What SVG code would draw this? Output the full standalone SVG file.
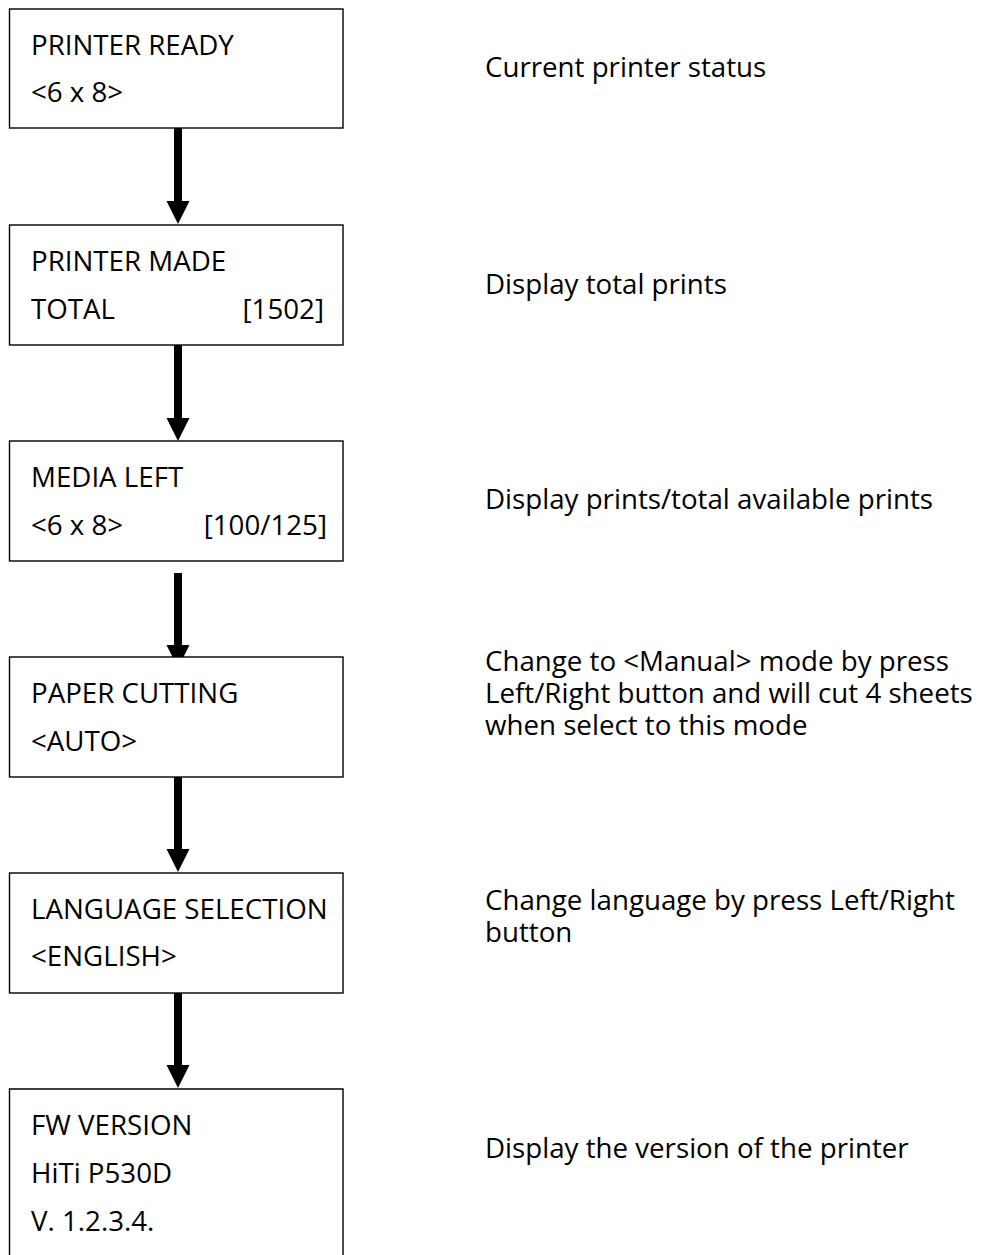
<svg xmlns="http://www.w3.org/2000/svg" width="987" height="1255" viewBox="0 0 987 1255">
<style>
text{font-family:"Open Sans","Liberation Sans",sans-serif;font-size:27.7px;fill:#000}
.end{text-anchor:end}
.box{fill:#fff;stroke:#000;stroke-width:1.4}
.shaft{stroke:#000;stroke-width:8;fill:none}
.head{fill:#000}
</style>
<rect width="987" height="1255" fill="#fff"/>
<g id="connectors">
<line class="shaft" x1="178" y1="128" x2="178" y2="206"/><polygon class="head" points="166.5,201 189.5,201 178,224"/>
<line class="shaft" x1="178" y1="345" x2="178" y2="423"/><polygon class="head" points="166.5,418 189.5,418 178,441"/>
<line class="shaft" x1="178" y1="573" x2="178" y2="650"/><polygon class="head" points="166.5,645 189.5,645 178,668"/>
<line class="shaft" x1="178" y1="777" x2="178" y2="854"/><polygon class="head" points="166.5,849 189.5,849 178,872"/>
<line class="shaft" x1="178" y1="993" x2="178" y2="1070"/><polygon class="head" points="166.5,1065 189.5,1065 178,1088"/>
</g>
<g id="n1"><rect class="box" x="9.5" y="9" width="333.5" height="119"/><text x="31" y="55">PRINTER READY</text><text x="31" y="102">&lt;6 x 8&gt;</text></g>
<g id="n2"><rect class="box" x="9.5" y="225" width="333.5" height="120"/><text x="31" y="271">PRINTER MADE</text><text x="31" y="319">TOTAL</text><text class="end" x="324" y="319">[1502]</text></g>
<g id="n3"><rect class="box" x="9.5" y="441" width="333.5" height="120"/><text x="31" y="487">MEDIA LEFT</text><text x="31" y="535">&lt;6 x 8&gt;</text><text class="end" x="327" y="535">[100/125]</text></g>
<g id="n4"><rect class="box" x="9.5" y="657" width="333.5" height="120"/><text x="31" y="703">PAPER CUTTING</text><text x="31" y="751">&lt;AUTO&gt;</text></g>
<g id="n5"><rect class="box" x="9.5" y="873" width="333.5" height="120"/><text x="31" y="919">LANGUAGE SELECTION</text><text x="31" y="966">&lt;ENGLISH&gt;</text></g>
<g id="n6"><path class="box" d="M9.5,1256 V1089 H343 V1256"/><text x="31" y="1135">FW VERSION</text><text x="31" y="1183">HiTi P530D</text><text x="31" y="1231">V. 1.2.3.4.</text></g>
<g id="notes">
<text x="485" y="77">Current printer status</text>
<text x="485" y="294">Display total prints</text>
<text x="485" y="509">Display prints/total available prints</text>
<text x="485" y="671">Change to &lt;Manual&gt; mode by press</text>
<text x="485" y="703">Left/Right button and will cut 4 sheets</text>
<text x="485" y="735">when select to this mode</text>
<text x="485" y="910">Change language by press Left/Right</text>
<text x="485" y="942">button</text>
<text x="485" y="1158">Display the version of the printer</text>
</g>
</svg>
